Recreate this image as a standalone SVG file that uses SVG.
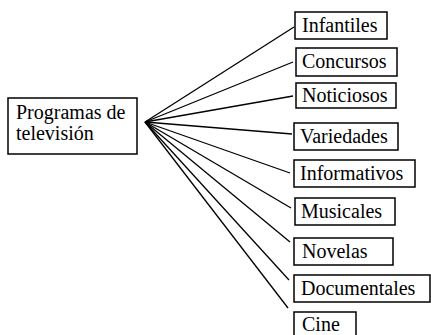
<svg xmlns="http://www.w3.org/2000/svg" width="431" height="335" viewBox="0 0 431 335">
<rect width="431" height="335" fill="#fff"/>
<g id="connectors" stroke="#000" stroke-width="1.3">
<line x1="145" y1="122" x2="294" y2="27"/>
<line x1="145" y1="122" x2="293" y2="62"/>
<line x1="145" y1="122" x2="293" y2="96"/>
<line x1="145" y1="122" x2="292" y2="134"/>
<line x1="145" y1="122" x2="290" y2="173"/>
<line x1="145" y1="122" x2="291" y2="208"/>
<line x1="145" y1="122" x2="290" y2="242"/>
<line x1="145" y1="122" x2="289" y2="280"/>
<line x1="145" y1="122" x2="288" y2="308"/>
</g>
<g id="n-root"><rect x="8" y="98" width="129" height="56" fill="#fff" stroke="#000" stroke-width="1.5"/>
<text x="16" y="119" font-family="Liberation Serif" font-size="20">Programas de</text>
<text x="16" y="140" font-family="Liberation Serif" font-size="20">televisión</text></g>
<g id="n1"><rect x="295" y="12" width="92" height="27" fill="#fff" stroke="#000" stroke-width="1.5"/><text x="302" y="32" font-family="Liberation Serif" font-size="20">Infantiles</text></g>
<g id="n2"><rect x="296" y="48" width="101" height="28" fill="#fff" stroke="#000" stroke-width="1.5"/><text x="302" y="68" font-family="Liberation Serif" font-size="20">Concursos</text></g>
<g id="n3"><rect x="296" y="83" width="100" height="25" fill="#fff" stroke="#000" stroke-width="1.5"/><text x="302" y="102" font-family="Liberation Serif" font-size="20">Noticiosos</text></g>
<g id="n4"><rect x="294" y="123" width="104" height="27" fill="#fff" stroke="#000" stroke-width="1.5"/><text x="300" y="143" font-family="Liberation Serif" font-size="20">Variedades</text></g>
<g id="n5"><rect x="294" y="160" width="121" height="27" fill="#fff" stroke="#000" stroke-width="1.5"/><text x="300" y="180" font-family="Liberation Serif" font-size="20">Informativos</text></g>
<g id="n6"><rect x="295" y="198" width="100" height="27" fill="#fff" stroke="#000" stroke-width="1.5"/><text x="301" y="218" font-family="Liberation Serif" font-size="20">Musicales</text></g>
<g id="n7"><rect x="294" y="238" width="99" height="27" fill="#fff" stroke="#000" stroke-width="1.5"/><text x="302" y="258" font-family="Liberation Serif" font-size="20">Novelas</text></g>
<g id="n8"><rect x="294" y="275" width="136" height="27" fill="#fff" stroke="#000" stroke-width="1.5"/><text x="301" y="295" font-family="Liberation Serif" font-size="20">Documentales</text></g>
<g id="n9"><rect x="294" y="312" width="62" height="24" fill="#fff" stroke="#000" stroke-width="1.5"/><text x="302" y="331" font-family="Liberation Serif" font-size="20">Cine</text></g>
</svg>
